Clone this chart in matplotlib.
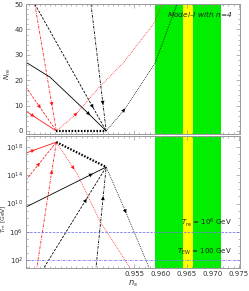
import numpy as np
import matplotlib
matplotlib.use("Agg")
import matplotlib.pyplot as plt
from matplotlib.ticker import MultipleLocator, FixedLocator, LogLocator, NullFormatter

# == DATA ================================================================== #
# planck bands in n_s
green_band = (0.9590, 0.9716)
yellow_band = (0.9643, 0.9662)

# instant reheating points (n_s, N_re, log10 T_re)
inst_ns = [0.9402, 0.9497]
inst_N = [0.0, 0.0]
inst_logT = [18.7, 15.17]

# N_re vs n_s  (red set)
r_solid_ns, r_solid_N = [0.9344, 0.9402], [7.8, 0.0]
r_dash_ns, r_dash_N = [0.9344, 0.9402], [17.3, 0.0]
r_dd_ns, r_dd_N = [0.9361, 0.9402], [50.0, 0.0]
r_dot_ns = [0.9402, 0.9438, 0.9485, 0.9531, 0.9588, 0.9603]
r_dot_N = [0.0, 6.3, 17.5, 27.2, 42.4, 50.0]

# N_re vs n_s  (black set)
k_solid_ns, k_solid_N = [0.9344, 0.9390, 0.9460, 0.9497], [27.1, 21.2, 7.5, 0.0]
k_dash_ns, k_dash_N = [0.9361, 0.9497], [50.0, 0.0]
k_dd_ns, k_dd_N = [0.9468, 0.9497], [50.0, 0.0]
k_dot_ns, k_dot_N = [0.9497, 0.9531, 0.9590, 0.9632], [0.0, 8.2, 26.7, 50.0]

# log10 T_re vs n_s  (red set)
r_solid_T = [17.15, 18.7]
r_dash_T = [13.3, 18.7]
r_dd_Tns, r_dd_T = [0.9364, 0.9402], [0.5, 18.7]
r_dot_Tns = [0.9402, 0.9441, 0.9485, 0.9533, 0.9545]
r_dot_T = [18.7, 14.3, 7.5, 2.0, 0.5]

# log10 T_re vs n_s  (black set)
k_solid_Tns, k_solid_T = [0.9344, 0.9497], [9.5, 15.17]
k_dash_Tns, k_dash_T = [0.9375, 0.9497], [0.5, 15.17]
k_dd_Tns, k_dd_T = [0.9477, 0.9497], [0.5, 15.17]
k_dot_Tns, k_dot_T = [0.9497, 0.9531, 0.9581], [15.17, 9.36, 0.5]

T_bbn = 1e6
T_ew = 1e2

# == STYLE ================================================================= #
RED = '#ff1a1a'
BLUE = '#7777ee'
SPINE = '#9a9a9a'
TXT = '#333333'
ls_dash = (0, (3, 1.6))
ls_dd = (0, (3.2, 1.3, 0.8, 1.3))
ls_dot = (0, (0.9, 1.3))


def arrow_on(ax, xs, ys, frac, color):
    # arrowhead along a polyline, pointing along array order
    pts = ax.transData.transform(np.column_stack([xs, ys]))
    seg = np.hypot(*np.diff(pts, axis=0).T)
    cum = np.concatenate([[0], np.cumsum(seg)])
    L = cum[-1]

    def at(s):
        s = np.clip(s, 0, L)
        return np.array([np.interp(s, cum, pts[:, 0]), np.interp(s, cum, pts[:, 1])])
    s0 = frac * L
    tail = ax.transData.inverted().transform(at(s0 - 3))
    tip = ax.transData.inverted().transform(at(s0 + 3))
    ax.annotate('', xy=tip, xytext=tail,
                arrowprops=dict(arrowstyle='-|>', mutation_scale=7, color=color,
                                lw=0, shrinkA=0, shrinkB=0))


def style_axis(ax):
    for sp in ax.spines.values():
        sp.set_color(SPINE)
        sp.set_linewidth(0.7)
    ax.tick_params(which='both', direction='in', top=True, right=True,
                   colors=SPINE, labelcolor=TXT, labelsize=5, width=0.5, pad=2)
    ax.tick_params(which='major', length=3)
    ax.tick_params(which='minor', length=1.5)
    ax.xaxis.set_major_locator(FixedLocator([0.955, 0.960, 0.965, 0.970, 0.975]))
    ax.xaxis.set_minor_locator(MultipleLocator(0.001))
    ax.set_xlim(0.9344, 0.9752)
    ax.axvspan(*green_band, color='#00ee00', lw=0, zorder=0)
    ax.axvspan(*yellow_band, color='#ffff00', lw=0, zorder=0)


fig = plt.figure(figsize=(2.49, 2.91), dpi=100)
ax1 = fig.add_axes([0.104, 0.5395, 0.86, 0.4465])
ax2 = fig.add_axes([0.104, 0.079, 0.86, 0.4535])

# == TOP PANEL: N_re ======================================================== #
style_axis(ax1)
ax1.set_ylim(-1.2, 50)
ax1.yaxis.set_major_locator(MultipleLocator(10))
ax1.yaxis.set_minor_locator(MultipleLocator(2))
ax1.tick_params(labelbottom=False)

top_curves = [
    (r_solid_ns, r_solid_N, RED, '-', 0.2),
    (r_dash_ns, r_dash_N, RED, ls_dash, 0.43),
    (r_dd_ns, r_dd_N, RED, ls_dd, 0.78),
    (r_dot_ns, r_dot_N, RED, ls_dot, 0.15),
    (k_solid_ns, k_solid_N, 'k', '-', 0.76),
    (k_dash_ns, k_dash_N, 'k', ls_dash, 0.8),
    (k_dd_ns, k_dd_N, 'k', ls_dd, 0.77),
    (k_dot_ns, k_dot_N, 'k', ls_dot, 0.18),
]
for xs, ys, c, ls, f in top_curves:
    ax1.plot(xs, ys, color=c, ls=ls, lw=0.6)
ax1.plot(inst_ns, inst_N, color='k', ls=(0, (0.7, 0.7)), lw=1.6)
for xs, ys, c, ls, f in top_curves:
    arrow_on(ax1, xs, ys, f, c)

ax1.text(0.9737, 46.0, 'Model\u2013I with $n$=4', ha='right', va='center',
         fontsize=5.3, style='italic', color='#222222')
ax1.set_ylabel(r'$N_{\rm re}$', fontsize=5, color=TXT)
ax1.yaxis.set_label_coords(-0.058, 0.46)

# == BOTTOM PANEL: T_re ===================================================== #
style_axis(ax2)
ax2.set_yscale('log')
ax2.set_ylim(10 ** 0.87, 10 ** 19.56)
ax2.yaxis.set_major_locator(FixedLocator([1e2, 1e6, 1e10, 1e14, 1e18]))
ax2.yaxis.set_minor_locator(LogLocator(base=10, subs=[1.0], numticks=40))
ax2.yaxis.set_minor_formatter(NullFormatter())
ax2.set_xlim(0.9344, 0.9752)

bot_curves = [
    (r_solid_ns, r_solid_T, RED, '-', 0.2),
    (r_dash_ns, r_dash_T, RED, ls_dash, 0.4),
    (r_dd_Tns, r_dd_T, RED, ls_dd, 0.76),
    (r_dot_Tns, r_dot_T, RED, ls_dot, 0.2),
    (k_solid_Tns, k_solid_T, 'k', '-', 0.8),
    (k_dash_Tns, k_dash_T, 'k', ls_dash, 0.67),
    (k_dd_Tns, k_dd_T, 'k', ls_dd, 0.69),
    (k_dot_Tns, k_dot_T, 'k', ls_dot, 0.42),
]
for xs, lt, c, ls, f in bot_curves:
    ax2.plot(xs, 10 ** np.asarray(lt), color=c, ls=ls, lw=0.6)
ax2.plot(inst_ns, 10 ** np.asarray(inst_logT), color='k', ls=(0, (0.7, 0.7)), lw=1.6)
for xs, lt, c, ls, f in bot_curves:
    arrow_on(ax2, xs, 10 ** np.asarray(lt), f, c)

ax2.axhline(T_bbn, color=BLUE, ls=(0, (3, 1.5)), lw=0.6)
ax2.axhline(T_ew, color=BLUE, ls=(0, (3, 1.2, 0.8, 1.2)), lw=0.6)
ax2.text(0.9737, T_bbn * 2.5, r'$T_{\rm re}$ = 10$^6$ GeV', ha='right', va='bottom',
         fontsize=5, color='#222222')
ax2.text(0.9737, T_ew * 2.5, r'$T_{\rm EW}$ = 100 GeV', ha='right', va='bottom',
         fontsize=5, color='#222222')
ax2.set_ylabel(r'$T_{\rm re}$ [GeV]', fontsize=4.3, color=TXT)
ax2.yaxis.set_label_coords(-0.082, 0.37)
ax2.set_xlabel(r'$n_s$', fontsize=6, color=TXT, labelpad=1)

fig.savefig('out.png', dpi=100)
